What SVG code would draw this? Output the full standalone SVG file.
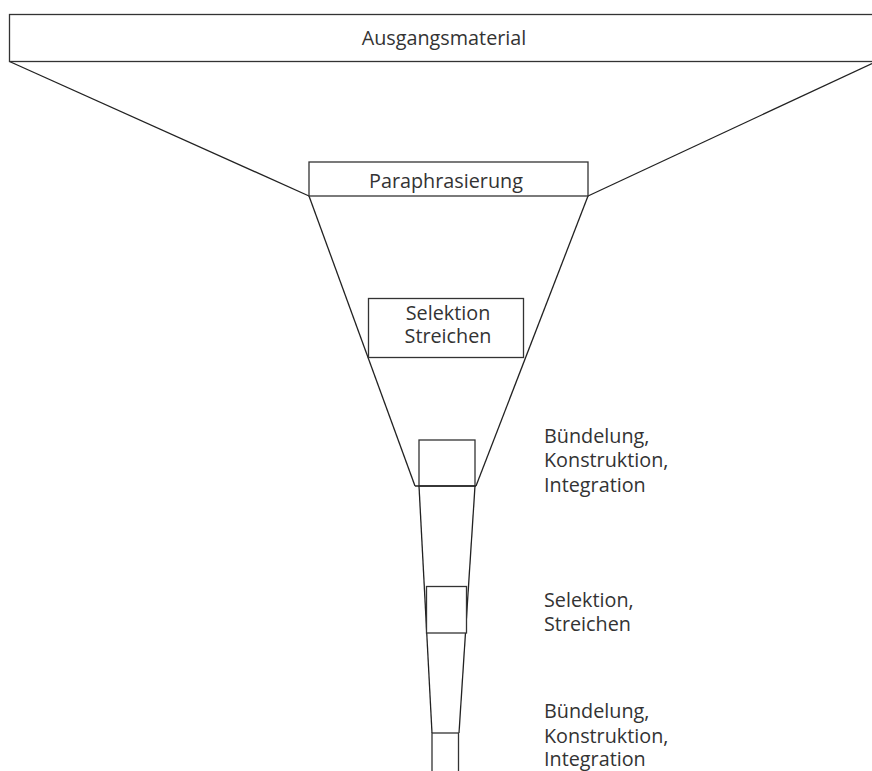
<svg xmlns="http://www.w3.org/2000/svg" width="872" height="771" viewBox="0 0 872 771">
<style>
.box{fill:#fff;stroke:#333;stroke-width:1.3}
.ln{fill:none;stroke:#222;stroke-width:1.3}
text{font-family:"Open Sans","DejaVu Sans",sans-serif;font-size:19.8px;fill:#333}
.c{text-anchor:middle}
</style>
<rect width="872" height="771" fill="#fff"/>
<g id="connectors">
<line class="ln" x1="9.5" y1="61.5" x2="309" y2="196"/>
<line class="ln" x1="872" y1="63.5" x2="588" y2="196"/>
<line class="ln" x1="309" y1="196" x2="415" y2="486"/>
<line class="ln" x1="588" y1="196" x2="476" y2="486"/>
<line class="ln" x1="419" y1="486" x2="432" y2="733"/>
<line class="ln" x1="475" y1="486" x2="459" y2="733"/>
</g>
<g id="ausgangsmaterial">
<rect class="box" x="9.5" y="14.5" width="870" height="47"/>
<text class="c" x="444" y="45">Ausgangsmaterial</text>
</g>
<g id="paraphrasierung">
<rect class="box" x="309" y="162" width="279" height="34"/>
<text class="c" x="446" y="188">Paraphrasierung</text>
</g>
<g id="selektion1">
<rect class="box" x="368.5" y="298.5" width="155" height="59"/>
<text class="c" x="448" y="320">Selektion</text>
<text class="c" x="448" y="343">Streichen</text>
</g>
<g id="buendelung1">
<rect class="box" x="419" y="440" width="56" height="46"/>
<line class="ln" x1="415" y1="486" x2="476" y2="486"/>
<text x="544" y="443">Bündelung,</text>
<text x="544" y="467">Konstruktion,</text>
<text x="544" y="492">Integration</text>
</g>
<g id="selektion2">
<rect class="box" x="426.5" y="586.5" width="40" height="46.5"/>
<text x="544" y="607">Selektion,</text>
<text x="544" y="631">Streichen</text>
</g>
<g id="buendelung2">
<rect class="box" x="432" y="733" width="26.5" height="50"/>
<text x="544" y="718">Bündelung,</text>
<text x="544" y="743">Konstruktion,</text>
<text x="544" y="766">Integration</text>
</g>
</svg>
